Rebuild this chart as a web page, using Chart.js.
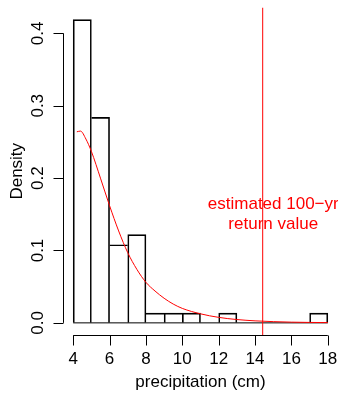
<!DOCTYPE html>
<html>
<head>
<meta charset="utf-8">
<title>Precipitation histogram</title>
<script src="https://cdn.jsdelivr.net/npm/chart.js@4.4.0/dist/chart.umd.min.js"></script>
<style>
  body { margin: 0; background: #fff; }
  #wrap { width: 342px; height: 394px; }
</style>
</head>
<body>
<div id="wrap"><canvas id="chart" width="342" height="394"></canvas></div>
<script>
// Histogram bins (cm) and density of each bin
const breaks = [4, 5, 6, 7, 8, 9, 10, 11, 12, 13, 14, 15, 16, 17, 18];
const densities = [0.419, 0.284, 0.108, 0.122, 0.0135, 0.0135, 0.0135, 0, 0.0135, 0, 0, 0, 0, 0.0135];

// Fitted density curve (red)
const curveX = [4.2, 4.4, 4.7, 5.0, 5.5, 6.0, 6.5, 7.0, 7.5, 8.0, 8.5, 9.0, 9.5, 10, 11, 12, 13, 14, 15, 16, 17, 18];
const curveY = [0.264, 0.265, 0.254, 0.237, 0.200, 0.162, 0.127, 0.097, 0.074, 0.056, 0.044, 0.034, 0.026, 0.020, 0.0125, 0.0076, 0.0046, 0.0028, 0.0017, 0.0010, 0.0006, 0.0004];

// Estimated 100-yr return value
const returnValue = 14.42;
const noteLines = ['estimated 100\u2212yr', 'return value'];
const noteAt = [15, 0.15];

// Axes
const xTicks = [4, 6, 8, 10, 12, 14, 16, 18];
const yTicks = [0, 0.1, 0.2, 0.3, 0.4];
const yTickLabels = ['0.0', '0.1', '0.2', '0.3', '0.4'];
const xTitle = 'precipitation (cm)';
const yTitle = 'Density';

const FONT = '17px "Liberation Sans", Arial, Helvetica, sans-serif';

// R style: axis range extended by 4% on both sides
function extend(lo, hi) {
    const d = (hi - lo) * 0.04;
    return [lo - d, hi + d];
}
const [xMin, xMax] = extend(breaks[0], breaks[breaks.length - 1]);
const [yMin, yMax] = extend(0, Math.max(...densities, ...curveY));

const mids = densities.map((d, i) => (breaks[i] + breaks[i + 1]) / 2);

// Draws detached axes, tick labels, titles and the note, like base R graphics
const rAxes = {
    id: 'rAxes',
    afterDraw(chart) {
        const { ctx, chartArea: a, scales: { x, y } } = chart;
        const crisp = v => Math.round(v) + 0.5;
        const tick = 10;

        ctx.save();
        ctx.strokeStyle = '#000';
        ctx.fillStyle = '#000';
        ctx.lineWidth = 1;
        ctx.font = FONT;
        ctx.textAlign = 'center';
        ctx.textBaseline = 'middle';

        // x axis
        const ax = crisp(a.bottom);
        ctx.beginPath();
        ctx.moveTo(x.getPixelForValue(xTicks[0]), ax);
        ctx.lineTo(x.getPixelForValue(xTicks[xTicks.length - 1]), ax);
        xTicks.forEach(t => {
            const px = crisp(x.getPixelForValue(t));
            ctx.moveTo(px, ax);
            ctx.lineTo(px, ax + tick);
        });
        ctx.stroke();
        xTicks.forEach(t => {
            ctx.fillText(String(t), x.getPixelForValue(t), a.bottom + 24);
        });
        ctx.fillText(xTitle, (a.left + a.right) / 2, a.bottom + 47);

        // y axis
        const ay = crisp(a.left);
        ctx.beginPath();
        ctx.moveTo(ay, y.getPixelForValue(yTicks[0]));
        ctx.lineTo(ay, y.getPixelForValue(yTicks[yTicks.length - 1]));
        yTicks.forEach(t => {
            const py = crisp(y.getPixelForValue(t));
            ctx.moveTo(ay, py);
            ctx.lineTo(ay - tick, py);
        });
        ctx.stroke();
        yTicks.forEach((t, i) => {
            ctx.save();
            ctx.translate(a.left - 25, y.getPixelForValue(t));
            ctx.rotate(-Math.PI / 2);
            ctx.fillText(yTickLabels[i], 0, 0);
            ctx.restore();
        });
        ctx.save();
        ctx.translate(a.left - 46, (a.top + a.bottom) / 2);
        ctx.rotate(-Math.PI / 2);
        ctx.fillText(yTitle, 0, 0);
        ctx.restore();

        // note, clipped to the plot region
        ctx.beginPath();
        ctx.rect(a.left, a.top, a.width, a.height);
        ctx.clip();
        ctx.fillStyle = '#ff0000';
        const nx = x.getPixelForValue(noteAt[0]);
        const ny = y.getPixelForValue(noteAt[1]);
        noteLines.forEach((line, i) => {
            ctx.fillText(line, nx, ny + (i - (noteLines.length - 1) / 2) * 20);
        });
        ctx.restore();
    }
};

new Chart(document.getElementById('chart'), {
    type: 'bar',
    data: {
        datasets: [
            {
                type: 'line',
                data: [{ x: returnValue, y: yMin }, { x: returnValue, y: yMax }],
                borderColor: '#ff0000',
                borderWidth: 1,
                pointRadius: 0,
                order: 1
            },
            {
                type: 'line',
                data: curveX.map((v, i) => ({ x: v, y: curveY[i] })),
                borderColor: '#ff0000',
                borderWidth: 1,
                pointRadius: 0,
                cubicInterpolationMode: 'monotone',
                order: 2
            },
            {
                type: 'line',
                data: [{ x: breaks[0], y: 0 }, { x: breaks[breaks.length - 1], y: 0 }],
                borderColor: '#000',
                borderWidth: 1,
                pointRadius: 0,
                order: 3
            },
            {
                type: 'bar',
                data: mids.map((m, i) => ({ x: m, y: densities[i] })),
                backgroundColor: 'rgba(0,0,0,0)',
                borderColor: '#000',
                borderSkipped: false,
                borderWidth: c => {
                    const i = c.dataIndex, d = densities;
                    return {
                        top: 1,
                        bottom: 0,
                        left: (i === 0 || d[i] >= d[i - 1]) ? 1 : 0,
                        right: (i === d.length - 1 || d[i] > d[i + 1]) ? 1 : 0
                    };
                },
                barPercentage: 1,
                categoryPercentage: 1,
                order: 4
            }
        ]
    },
    options: {
        responsive: false,
        animation: false,
        events: [],
        devicePixelRatio: 1,
        layout: { padding: { left: 63, right: 4, top: 7.5, bottom: 59 } },
        plugins: { legend: { display: false }, tooltip: { enabled: false } },
        scales: {
            x: {
                type: 'linear',
                display: false,
                offset: false,
                min: xMin,
                max: xMax,
                ticks: { stepSize: 1, includeBounds: false }
            },
            y: {
                type: 'linear',
                display: false,
                min: yMin,
                max: yMax
            }
        }
    },
    plugins: [rAxes]
});
</script>
</body>
</html>
